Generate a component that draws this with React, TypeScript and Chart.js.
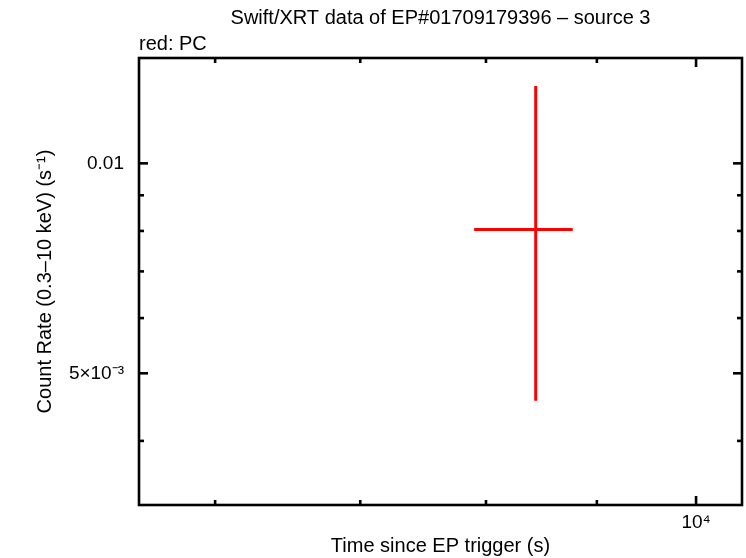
import React, { useEffect, useRef } from "react";
import { Chart, registerables } from "chart.js";

Chart.register(...registerables);

// ---- data ----
const timeCenter = [8434];
const timeLow = [7900];
const timeHigh = [8772];
const rateCenter = [0.00804];
const rateLow = [0.004567];
const rateHigh = [0.01291];

// ---- axes ----
const xRange = [5534, 10500];
const yRange = [0.003237, 0.01416];
const xLabelTicks = [10000];
const xLabelText = ["10⁴"];
const xMinorTicks = [6000, 7000, 8000, 9000];
const yLabelTicks = [0.005, 0.01];
const yLabelText = ["5×10⁻³", "0.01"];
const yMinorTicks = [0.004, 0.006, 0.007, 0.008, 0.009];

const titleText = "Swift/XRT data of EP#01709179396 – source 3";
const subtitleText = "red: PC";
const xTitle = "Time since EP trigger (s)";
const yTitle = "Count Rate (0.3–10 keV) (s⁻¹)";

const FONT = "'Liberation Sans', Arial, Helvetica, sans-serif";

const framePlugin = {
  id: "frame",
  afterDatasetsDraw(chart: any) {
    const { ctx, chartArea: a, scales } = chart;
    const x = scales.x;
    const y = scales.y;
    ctx.save();
    ctx.strokeStyle = "#000";
    ctx.lineWidth = 2.6;
    ctx.lineCap = "butt";
    const line = (x1: number, y1: number, x2: number, y2: number) => {
      ctx.beginPath();
      ctx.moveTo(x1, y1);
      ctx.lineTo(x2, y2);
      ctx.stroke();
    };
    const xt = (v: number, len: number) => {
      const px = x.getPixelForValue(v);
      line(px, a.bottom, px, a.bottom - len);
      line(px, a.top, px, a.top + len);
    };
    const yt = (v: number, len: number) => {
      const py = y.getPixelForValue(v);
      line(a.left, py, a.left + len, py);
      line(a.right, py, a.right - len, py);
    };
    xLabelTicks.forEach((v) => xt(v, 9));
    xMinorTicks.forEach((v) => xt(v, 5));
    yLabelTicks.forEach((v) => yt(v, 9));
    yMinorTicks.forEach((v) => yt(v, 5));
    ctx.strokeRect(a.left, a.top, a.right - a.left, a.bottom - a.top);
    ctx.restore();
  },
};

export default function App() {
  const ref = useRef<HTMLCanvasElement | null>(null);
  useEffect(() => {
    if (!ref.current) return;
    const datasets: any[] = [];
    timeCenter.forEach((t, i) => {
      datasets.push({
        data: [
          { x: timeLow[i], y: rateCenter[i] },
          { x: timeHigh[i], y: rateCenter[i] },
        ],
        showLine: true,
        borderColor: "#ff0000",
        borderWidth: 3,
        pointRadius: 0,
        borderCapStyle: "butt",
      });
      datasets.push({
        data: [
          { x: t, y: rateLow[i] },
          { x: t, y: rateHigh[i] },
        ],
        showLine: true,
        borderColor: "#ff0000",
        borderWidth: 3,
        pointRadius: 0,
        borderCapStyle: "butt",
      });
    });
    const font = { family: FONT, size: 20, weight: "normal" as const };
    const tickFont = { family: FONT, size: 19, weight: "normal" as const };
    const chart = new Chart(ref.current, {
      type: "scatter",
      data: { datasets },
      plugins: [framePlugin],
      options: {
        animation: false,
        responsive: false,
        layout: { padding: { left: 0, right: 4, top: 0, bottom: 0 } },
        plugins: {
          legend: { display: false },
          tooltip: { enabled: false },
          title: {
            display: true,
            text: titleText,
            font,
            color: "#000",
            padding: { top: 6, bottom: 1 },
            fullSize: false,
          },
          subtitle: {
            display: true,
            text: subtitleText,
            align: "start",
            font,
            color: "#000",
            padding: { top: 1, bottom: 2 },
            fullSize: false,
          },
        },
        scales: {
          x: {
            type: "logarithmic",
            position: "bottom",
            min: xRange[0],
            max: xRange[1],
            grid: { display: false, drawTicks: false },
            border: { display: false },
            afterBuildTicks: (s: any) => {
              s.ticks = xLabelTicks.map((v) => ({ value: v }));
            },
            afterFit: (s: any) => {
              s.height = 53;
            },
            ticks: {
              autoSkip: false,
              maxRotation: 0,
              padding: 6,
              font: tickFont,
              color: "#000",
              callback: (v: any) => {
                const i = xLabelTicks.indexOf(Number(v));
                return i >= 0 ? xLabelText[i] : "";
              },
            },
            title: {
              display: true,
              text: xTitle,
              font,
              color: "#000",
              padding: { top: 0, bottom: 0 },
            },
          },
          y: {
            type: "logarithmic",
            position: "left",
            min: yRange[0],
            max: yRange[1],
            grid: { display: false, drawTicks: false },
            border: { display: false },
            afterBuildTicks: (s: any) => {
              s.ticks = yLabelTicks.map((v) => ({ value: v }));
            },
            afterFit: (s: any) => {
              s.width = 139;
            },
            ticks: {
              autoSkip: false,
              padding: 15,
              font: tickFont,
              color: "#000",
              callback: (v: any) => {
                const i = yLabelTicks.indexOf(Number(v));
                return i >= 0 ? yLabelText[i] : "";
              },
            },
            title: {
              display: true,
              text: yTitle,
              font,
              color: "#000",
              padding: { top: 33, bottom: 0 },
            },
          },
        },
      } as any,
    });
    return () => chart.destroy();
  }, []);
  return (
    <div style={{ position: "absolute", left: 0, top: 0, width: 746, height: 558, background: "#fff" }}>
      <canvas ref={ref} width={746} height={558} style={{ display: "block" }} />
    </div>
  );
}
